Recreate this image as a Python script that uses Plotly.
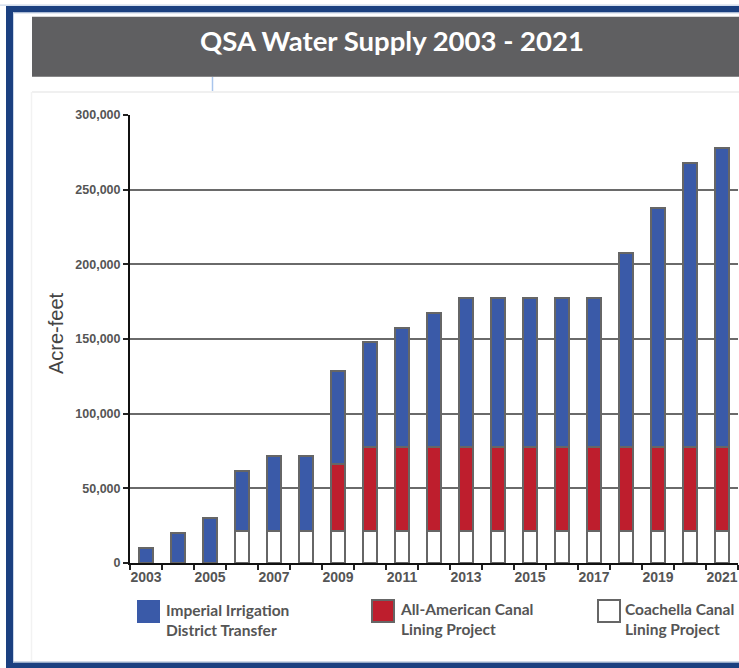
import plotly.graph_objects as go

years = [str(y) for y in range(2003, 2022)]
iid_transfer = [10000, 20000, 30000, 40000, 50000, 50000, 62500, 70000, 80000, 90000,
                100000, 100000, 100000, 100000, 100000, 130000, 160000, 190000, 200000]
aac_lining = [None, None, None, None, None, None, 44800, 56200, 56200, 56200,
              56200, 56200, 56200, 56200, 56200, 56200, 56200, 56200, 56200]
ccl_lining = [None, None, None, 21500, 21500, 21500, 21500, 21500, 21500, 21500,
              21500, 21500, 21500, 21500, 21500, 21500, 21500, 21500, 21500]
tick_text = [y if i % 2 == 0 else "" for i, y in enumerate(years)]
y_ticks = [0, 50000, 100000, 150000, 200000, 250000, 300000]

BLUE = "#3a5aa8"
RED = "#be1e2d"
OUTLINE = "#666666"
W, H = 739, 668
L, R_EDGE, T, B = 130, 738, 115, 563


def px(x):
    return (x - L) / (R_EDGE - L)


def py(y):
    return (B - y) / (B - T)


fig = go.Figure()
fig.add_trace(go.Bar(x=years, y=ccl_lining, name="Coachella Canal Lining Project",
                     marker=dict(color="white", line=dict(color=OUTLINE, width=2)), width=0.43))
fig.add_trace(go.Bar(x=years, y=aac_lining, name="All-American Canal Lining Project",
                     marker=dict(color=RED, line=dict(color=OUTLINE, width=2)), width=0.43))
fig.add_trace(go.Bar(x=years, y=iid_transfer, name="Imperial Irrigation District Transfer",
                     marker=dict(color=BLUE, line=dict(color=OUTLINE, width=2)), width=0.43))

shapes = []
# blue frame
for (x0, y0, x1, y1, c) in [
    (0, 4.5, W + 5, 5.8, "#c9d6e8"),
    (6, 6, 13, H + 5, "#1b4080"),
    (6, 6, W + 5, 12.5, "#1b4080"),
    (6, 662.5, W + 5, H + 5, "#1b4080"),
    (13, 12.5, 14, 662.5, "#c9d6e8"),
    (13, 12.5, W + 5, 13.5, "#c9d6e8"),
    (13, 661.5, W + 5, 662.5, "#9fb3d0"),
]:
    shapes.append(dict(type="rect", xref="paper", yref="paper", x0=px(x0), x1=px(x1),
                       y0=py(y0), y1=py(y1), fillcolor=c, line=dict(width=0), layer="above"))
# title box
shapes.append(dict(type="rect", xref="paper", yref="paper", x0=px(32), x1=px(W + 5),
                   y0=py(76.7), y1=py(16.7), fillcolor="#5f5f61", line=dict(width=0)))
# thin light blue line
shapes.append(dict(type="line", xref="paper", yref="paper", x0=px(212.5), x1=px(212.5),
                   y0=py(77), y1=py(92), line=dict(color="#a9c5ec", width=1.5)))
# faint panel edges
shapes.append(dict(type="line", xref="paper", yref="paper", x0=px(32), x1=px(W + 5),
                   y0=py(92), y1=py(92), line=dict(color="#f0f0f0", width=2)))
shapes.append(dict(type="line", xref="paper", yref="paper", x0=px(31.5), x1=px(31.5),
                   y0=py(92), y1=py(661), line=dict(color="#f2f2f2", width=1.5)))
# legend squares
shapes.append(dict(type="rect", xref="paper", yref="paper", x0=px(137), x1=px(160),
                   y0=py(623), y1=py(600), fillcolor=BLUE, line=dict(width=0)))
shapes.append(dict(type="rect", xref="paper", yref="paper", x0=px(372), x1=px(394),
                   y0=py(622), y1=py(600), fillcolor=RED, line=dict(color=OUTLINE, width=2)))
shapes.append(dict(type="rect", xref="paper", yref="paper", x0=px(598), x1=px(620),
                   y0=py(622), y1=py(600), fillcolor="white", line=dict(color=OUTLINE, width=2)))

legend_font = dict(family="Lato", size=15.5, color="#555555", weight="bold")
annotations = [
    dict(text="QSA Water Supply 2003 - 2021", xref="paper", yref="paper", x=px(392), y=py(40),
         showarrow=False, xanchor="center", yanchor="middle",
         font=dict(family="Lato", size=27.5, color="white", weight="bold")),
    dict(text="Acre-feet", xref="paper", yref="paper", x=px(56), y=py(333), textangle=-90,
         showarrow=False, xanchor="center", yanchor="middle",
         font=dict(family="Liberation Sans", size=20, color="#444444")),
    dict(text="Imperial Irrigation<br>District Transfer", xref="paper", yref="paper",
         x=px(164), y=py(620), showarrow=False, xanchor="left", yanchor="middle", align="left",
         font=legend_font),
    dict(text="All-American Canal<br>Lining Project", xref="paper", yref="paper",
         x=px(398), y=py(619), showarrow=False, xanchor="left", yanchor="middle", align="left",
         font=legend_font),
    dict(text="Coachella Canal<br>Lining Project", xref="paper", yref="paper",
         x=px(623), y=py(619), showarrow=False, xanchor="left", yanchor="middle", align="left",
         font=legend_font),
]

fig.update_layout(
    width=W, height=H,
    margin=dict(l=L, r=W - R_EDGE, t=T, b=H - B, pad=0),
    barmode="stack",
    showlegend=False,
    paper_bgcolor="white",
    plot_bgcolor="white",
    shapes=shapes,
    annotations=annotations,
    xaxis=dict(type="category", range=[-0.5, 18.5], tickmode="array", tickvals=years,
               ticktext=tick_text, tickson="boundaries", ticks="outside", ticklen=5,
               tickangle=0, tickwidth=1.5, tickcolor="#222222", showline=True,
               linecolor="#111111", linewidth=2, showgrid=False,
               tickfont=dict(family="Liberation Sans", size=14, color="#555555", weight="bold")),
    yaxis=dict(range=[0, 300000], tickmode="array", tickvals=y_ticks, tickformat=",",
               ticks="outside", ticklen=5, tickwidth=1.5, tickcolor="#222222",
               showline=True, linecolor="#111111", linewidth=2,
               showgrid=True, gridcolor="#6a6a6a", gridwidth=1.5, zeroline=False,
               tickfont=dict(family="Liberation Sans", size=12.5, color="#555555", weight="bold")),
)

fig.write_html("out.html", config={"displayModeBar": False},
               post_script="document.body.style.margin='0';document.body.style.overflow='hidden';")
